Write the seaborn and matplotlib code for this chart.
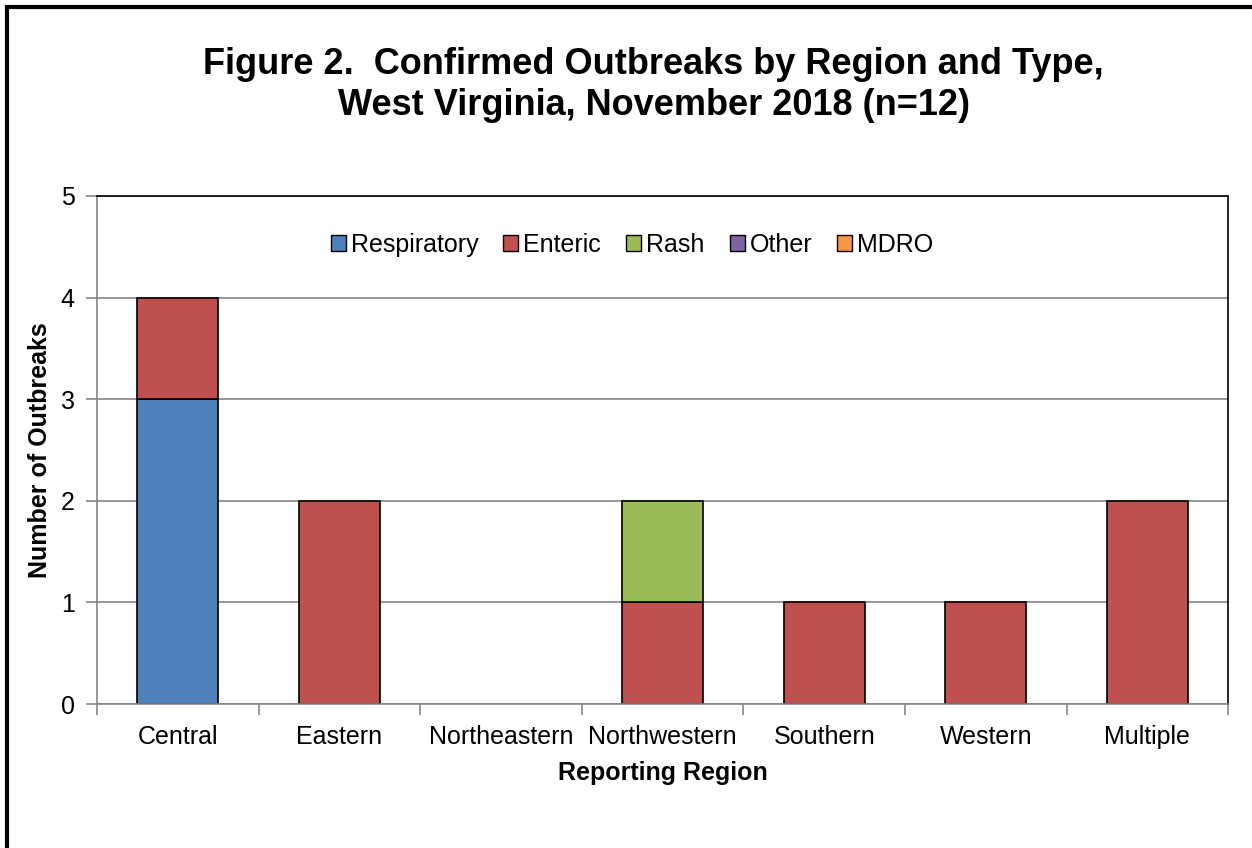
import seaborn as sns
import matplotlib.pyplot as plt
import pandas as pd
import numpy as np
from matplotlib.patches import Patch, Rectangle

regions = ['Central', 'Eastern', 'Northeastern', 'Northwestern', 'Southern', 'Western', 'Multiple']
types = ['Respiratory', 'Enteric', 'Rash', 'Other', 'MDRO']
respiratory = [3, 0, 0, 0, 0, 0, 0]
enteric = [1, 2, 0, 1, 1, 1, 2]
rash = [0, 0, 0, 1, 0, 0, 0]
other = [0, 0, 0, 0, 0, 0, 0]
mdro = [0, 0, 0, 0, 0, 0, 0]
colors = ['#4F81BD', '#C0504D', '#9BBB59', '#8064A2', '#F79646']

sns.set_style('white')
plt.rcParams['font.family'] = ['Liberation Sans', 'DejaVu Sans']
plt.rcParams['text.color'] = 'black'
plt.rcParams['axes.labelcolor'] = 'black'
plt.rcParams['xtick.color'] = 'black'
plt.rcParams['ytick.color'] = 'black'

fig = plt.figure(figsize=(12.52, 8.48), dpi=100)
ax = fig.add_axes([0.0775, 0.1698, 0.9035, 0.5991])

# stacked bars, one layer per outbreak type
bottom = np.zeros(len(regions))
for name, vals, col in zip(types, [respiratory, enteric, rash, other, mdro], colors):
    df = pd.DataFrame({'region': regions, 'n': vals, 'base': bottom})
    df = df[df['n'] > 0]
    if len(df):
        sns.barplot(data=df, x='region', y='n', order=regions, color=col,
                    width=0.5, bottom=df['base'].values, edgecolor='black',
                    linewidth=1.2, saturation=1, ax=ax, zorder=3)
    bottom = bottom + np.array(vals)

ax.set_xlim(-0.5, 6.5)
ax.set_ylim(0, 5)
ax.set_yticks(range(6))
ax.yaxis.grid(True, color='#868686', linewidth=1.2, zorder=0)
ax.set_axisbelow(True)

ax.set_xticks(range(7))
ax.set_xticklabels(regions, fontsize=18)
ax.set_xticks(np.arange(-0.5, 7, 1), minor=True)
ax.tick_params(axis='x', which='major', length=0, pad=15)
ax.tick_params(axis='x', which='minor', length=8, color='#868686', width=1.2, direction='out', bottom=True)
ax.tick_params(axis='y', length=8, color='#868686', width=1.2, direction='out', left=True,
               labelsize=18, pad=8, labelcolor='black')

for s in ['left', 'bottom']:
    ax.spines[s].set_color('#868686')
    ax.spines[s].set_linewidth(1.2)
for s in ['top', 'right']:
    ax.spines[s].set_color('black')
    ax.spines[s].set_linewidth(1.2)
ax.spines['bottom'].set_zorder(4)

ax.set_xlabel('Reporting Region', fontsize=18, fontweight='bold', labelpad=9)
ax.set_ylabel('Number of Outbreaks', fontsize=18, fontweight='bold')
ax.yaxis.set_label_coords(-0.040, 0.5)

handles = [Patch(facecolor=c, edgecolor='black', linewidth=1) for c in colors]
ax.legend(handles, types, loc='upper center', bbox_to_anchor=(0.473, 0.972), ncol=5,
          frameon=False, fontsize=18, handlelength=0.6, handleheight=0.6,
          handletextpad=0.2, columnspacing=1.0)

fig.text(0.522, 0.8998, 'Figure 2.  Confirmed Outbreaks by Region and Type,\nWest Virginia, November 2018 (n=12)',
         ha='center', va='center', fontsize=26, fontweight='bold', linespacing=1.25)

fig.patches.append(Rectangle((7 / 1252, -0.05), 1.1, 1 - 7 / 848 + 0.05, transform=fig.transFigure,
                             fill=False, edgecolor='black', linewidth=3))

fig.savefig('out.png', dpi=100)
